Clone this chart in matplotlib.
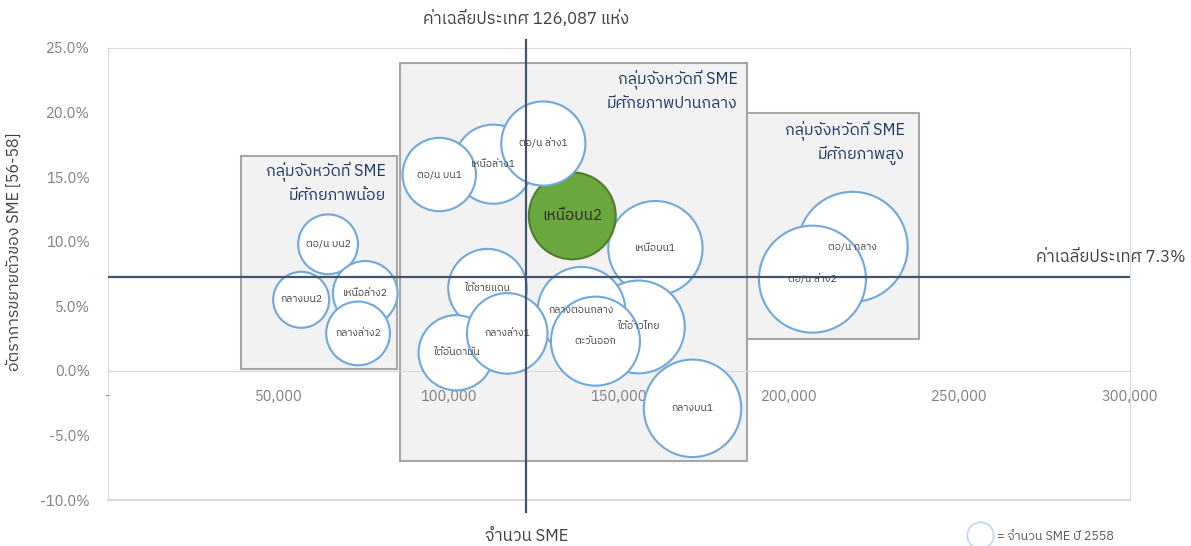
import matplotlib
matplotlib.use("Agg")
import matplotlib.pyplot as plt
from matplotlib import font_manager
from matplotlib.ft2font import FT2Font
from matplotlib.lines import Line2D
from matplotlib.patches import Rectangle
from matplotlib.ticker import FuncFormatter


def find_thai_font():
    found = []
    for f in font_manager.fontManager.ttflist:
        try:
            if 0x0E01 in FT2Font(f.fname).get_charmap():
                found.append(f.name)
        except Exception:
            pass
    for name in found:
        if "Sans" in name:
            return name
    return found[0] if found else None


thai = find_thai_font()
families = [thai, "DejaVu Sans"] if thai else ["DejaVu Sans"]
plt.rcParams["font.family"] = families

# bubble data (drawn in this order, last on top)
groups = ["ตอ/น กลาง", "ตอ/น ล่าง2", "เหนือบน1", "ใต้อ่าวไทย", "กลางตอนกลาง",
          "ตะวันออก", "กลางบน1", "ใต้ชายแดน", "ใต้อันดามัน", "กลางล่าง1",
          "เหนือล่าง1", "ตอ/น บน1", "เหนือบน2", "ตอ/น ล่าง1", "ตอ/น บน2",
          "กลางบน2", "เหนือล่าง2", "กลางล่าง2"]
sme_count = [218600, 206800, 160700, 155700, 139000,
             143100, 171600, 111400, 102200, 117200,
             113100, 97250, 136300, 127800, 64600,
             56700, 75500, 73400]
growth = [9.6, 7.1, 9.5, 3.4, 4.65,
          2.3, -2.9, 6.4, 1.4, 2.9,
          16.0, 15.2, 12.0, 17.6, 9.8,
          5.5, 6.0, 2.9]
highlight = "เหนือบน2"

avg_growth = 7.3
avg_sme_label = "126,087"
avg_sme_line = 122800

x_ticks = [0, 50000, 100000, 150000, 200000, 250000, 300000]
y_ticks = [-10, -5, 0, 5, 10, 15, 20, 25]

box_titles = ["กลุ่มจังหวัดที่ SME\nมีศักยภาพน้อย",
              "กลุ่มจังหวัดที่ SME\nมีศักยภาพปานกลาง",
              "กลุ่มจังหวัดที่ SME\nมีศักยภาพสูง"]

fig = plt.figure(figsize=(11.91, 5.46), dpi=100)
ax = fig.add_axes([0.0907, 0.0842, 0.858, 0.828])
ax.set_xlim(0, 300000)
ax.set_ylim(-10, 25)

frame = "#d9d9d9"
for side in ["top", "left", "right"]:
    ax.spines[side].set_color(frame)
ax.spines["bottom"].set_position(("data", 0))
ax.spines["bottom"].set_color(frame)
ax.axhline(-10, color=frame, lw=1.5, clip_on=False, zorder=2)

ax.set_xticks(x_ticks)
ax.set_yticks(y_ticks)
ax.xaxis.set_major_formatter(FuncFormatter(lambda v, p: "-" if v == 0 else f"{v:,.0f}"))
ax.yaxis.set_major_formatter(FuncFormatter(lambda v, p: f"{v:.1f}%"))
ax.tick_params(axis="x", length=0, pad=14, labelsize=10.5, labelcolor="#7f7f7f")
ax.tick_params(axis="y", length=0, pad=13, labelsize=10.5, labelcolor="#7f7f7f")

# group boxes
boxes = [(39070, 0.15, 84900 - 39070, 16.67 - 0.15),
         (85800, -7.0, 187500 - 85800, 23.8 + 7.0),
         (187700, 2.5, 238000 - 187700, 20.0 - 2.5)]
title_pos = [(81700, 14.55), (184800, 21.7), (233900, 17.65)]
for (bx, by, bw, bh), title, (tx, ty) in zip(boxes, box_titles, title_pos):
    ax.add_patch(Rectangle((bx, by), bw, bh, facecolor="#f2f2f2",
                           edgecolor="#a6a6a6", lw=1.5, zorder=1))
    ax.text(tx, ty, title, ha="right", va="center", ma="right", fontsize=11.5,
            color="#1f3864", linespacing=1.35, zorder=6)

faces = ["#6aa73f" if g == highlight else "white" for g in groups]
edges = ["#4f7c2e" if g == highlight else "#6fa8dc" for g in groups]
sizes = [v * 0.0287 for v in sme_count]
ax.scatter(sme_count, growth, s=sizes, c=faces, edgecolors=edges,
           linewidths=1.5, zorder=3)

for g, xv, yv in zip(groups, sme_count, growth):
    if g == highlight:
        ax.text(xv, yv, g, ha="center", va="center", fontsize=11,
                color="#262626", zorder=7)
    else:
        ax.text(xv, yv, g, ha="center", va="center", fontsize=7.5,
                color="#404040", zorder=7)

# country averages
ax.axhline(avg_growth, color="#44546a", lw=1.6, zorder=4)
ax.plot([avg_sme_line, avg_sme_line], [-10.9, 25.6], color="#44546a",
        lw=1.6, zorder=4, clip_on=False)
ax.text(avg_sme_line, 27.3, f"ค่าเฉลี่ยประเทศ {avg_sme_label} แห่ง",
        ha="center", va="center", fontsize=12, color="#404040")
ax.text(316400, 8.8, f"ค่าเฉลี่ยประเทศ {avg_growth}%", ha="right",
        va="center", fontsize=12, color="#404040", clip_on=False)
ax.text(avg_sme_line, -12.8, "จำนวน SME", ha="center", va="center",
        fontsize=12, color="#404040")

ax.set_ylabel("อัตราการขยายตัวของ SME [56-58]", fontsize=11.5, color="#404040")
ax.yaxis.set_label_coords(-0.084, 0.549)

handle = Line2D([], [], marker="o", ls="", markersize=19,
                markerfacecolor="white", markeredgecolor="#bdd7ee", mew=1.2)
ax.legend([handle], ["= จำนวน SME ปี 2558"], loc="center left",
          bbox_to_anchor=(0.83, -0.08), frameon=False, fontsize=9,
          labelcolor="#595959", handletextpad=0.4)

fig.savefig("out.png", dpi=100)
